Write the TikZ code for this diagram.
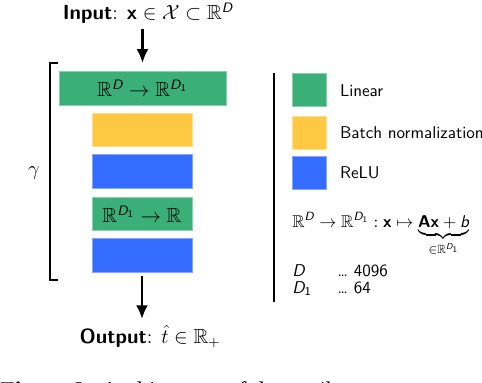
\documentclass[tikz,border=0pt]{standalone}
\usepackage{amsmath,amssymb}
\usepackage{fontspec}
\usepackage{xcolor}
\usepackage{tikz}
\usetikzlibrary{arrows.meta}
\newfontfamily\capfont{Liberation Serif}
\definecolor{linGreen}{RGB}{58,176,120}
\definecolor{bnYellow}{RGB}{255,200,67}
\definecolor{reluBlue}{RGB}{52,108,255}
\newcommand{\dimD}{\textsf{\itshape D}}
\newcommand{\vecx}{\textsf{\bfseries x}}

\begin{document}
\begin{tikzpicture}[x=0.0206cm, y=-0.0206cm,
    layer/.style={minimum height=0.69cm, inner sep=0pt, font=\large},
    biglayer/.style={layer, minimum width=3.44cm},
    smalllayer/.style={layer, minimum width=2.06cm},
    legbox/.style={minimum width=0.70cm, minimum height=0.68cm, inner sep=0pt},
    flow/.style={-{Latex[length=8pt,width=7pt]}, line width=1.4pt}]
    \useasboundingbox (0,0) rectangle (482,382);

    % Input / Output
    \node[font=\large] (input) at (148,13) {\textsf{\bfseries Input}: $\vecx\in\mathcal{X}\subset\mathbb{R}^{\dimD}$};
    \node[font=\large, anchor=base] (output) at (150,343) {\textsf{\bfseries Output}: $\hat{t}\in\mathbb{R}_{+}$};

    % Layers
    \node[biglayer, fill=linGreen, draw=linGreen!60!white] (lin1) at (142.5,88.5) {$\mathbb{R}^{\dimD}\to\mathbb{R}^{\dimD_{\textsf{1}}}$};
    \node[smalllayer, fill=bnYellow, draw=bnYellow!60!white] (bn) at (142,130) {};
    \node[smalllayer, fill=reluBlue, draw=reluBlue!60!white] (relu1) at (142,171.5) {};
    \node[smalllayer, fill=linGreen, draw=linGreen!60!white] (lin2) at (142,214) {$\mathbb{R}^{\dimD_{\textsf{1}}}\to\mathbb{R}$};
    \node[smalllayer, fill=reluBlue, draw=reluBlue!60!white] (relu2) at (142,255.5) {};

    % Bracket
    \draw[line width=0.8pt] (58,63) -- (50,63) -- (50,280) -- (58,280);
    \node[font=\large] (gamma) at (34,173) {$\gamma$};

    % Arrows
    \draw[flow, shorten <=0pt, shorten >=5pt] (input.south -| lin1.north) -- (lin1.north);
    \draw[flow, shorten <=2pt, shorten >=0pt] (relu2.south) -- (relu2.south |- output.north);

    % Legend
    \draw[line width=0.8pt] (274,73) -- (274,302);
    \node[legbox, fill=linGreen, draw=linGreen!60!white] (legLin) at (309,89.5) {};
    \node[legbox, fill=bnYellow, draw=bnYellow!60!white] (legBn) at (309,132.5) {};
    \node[legbox, fill=reluBlue, draw=reluBlue!60!white] (legRelu) at (309,173) {};
    \node[anchor=west, font=\sffamily] (txtLin) at (334,91) {Linear};
    \node[anchor=west, font=\sffamily] (txtBn) at (334,133) {Batch normalization};
    \node[anchor=west, font=\sffamily] (txtRelu) at (334,173) {ReLU};

    % Definitions
    \node[anchor=base west, inner sep=0pt] (linmap) at (292,227) {$\mathbb{R}^{\dimD}\to\mathbb{R}^{\dimD_{\textsf{1}}} : \vecx\mapsto\underbrace{\textsf{\bfseries Ax}+\textsf{\itshape b}}_{\in\mathbb{R}^{\dimD_{\textsf{1}}}}$};
    \node[anchor=base west, inner sep=0pt, font=\sffamily] (dims) at (292,276) {\begin{tabular}[t]{@{}l@{\hspace{1.5em}}l@{}}\itshape D & \dots\ 4096\\[-2pt] \itshape D$_{\textsf{\upshape 1}}$ & \dots\ 64\end{tabular}};

    % Caption
    \node[anchor=base west, inner sep=0pt, font=\capfont\fontsize{14}{16}\selectfont] (caption) at (0,398) {\textbf{Figure 2:} Architecture of the attribute};
\end{tikzpicture}
\end{document}
